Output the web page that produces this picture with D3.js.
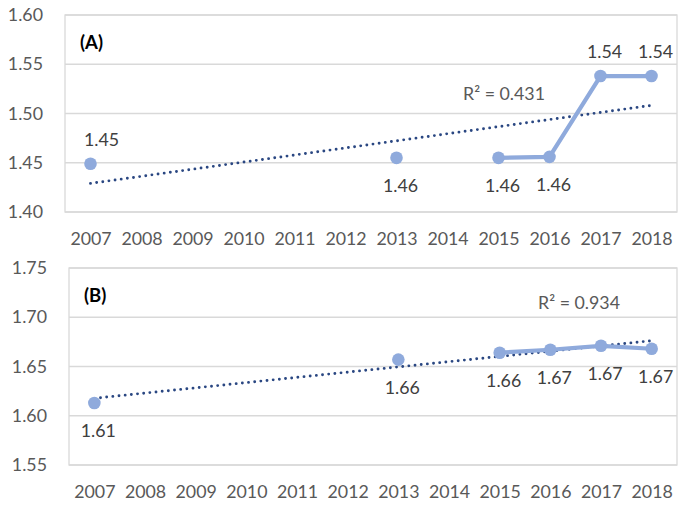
<!DOCTYPE html>
<html>
<head>
<meta charset="utf-8">
<script src="https://cdn.jsdelivr.net/npm/d3@7"></script>
<style>
  html, body { margin: 0; padding: 0; background: #fff; }
  svg { display: block; font-family: Lato, "Open Sans", sans-serif; }
</style>
</head>
<body>
<svg id="chart" width="685" height="505"></svg>
<script>
// ---------- data ----------
const years = ['2007','2008','2009','2010','2011','2012','2013','2014','2015','2016','2017','2018'];

const valuesA = [1.449, null, null, null, null, null, 1.455, null, 1.455, 1.456, 1.538, 1.538];
const labelsA = ['1.45', null, null, null, null, null, '1.46', null, '1.46', '1.46', '1.54', '1.54'];
const placeA  = ['aboveRight', null, null, null, null, null, 'below', null, 'below', 'below', 'above', 'above'];
const yTicksA = [1.40, 1.45, 1.50, 1.55, 1.60];
const titleA = '(A)';
const r2A = 'R² = 0.431';

const valuesB = [1.613, null, null, null, null, null, 1.657, null, 1.664, 1.667, 1.671, 1.668];
const labelsB = ['1.61', null, null, null, null, null, '1.66', null, '1.66', '1.67', '1.67', '1.67'];
const placeB  = ['below', null, null, null, null, null, 'below', null, 'below', 'below', 'below', 'below'];
const yTicksB = [1.55, 1.60, 1.65, 1.70, 1.75];
const titleB = '(B)';
const r2B = 'R² = 0.934';

// ---------- drawing ----------
const svg = d3.select('#chart');
const lineColor = '#8faadc';
const trendColor = '#2a4782';
const gridColor = '#d9d9d9';
const tickColor = '#595959';
const labelColor = '#404040';
const fontSize = '17.8px';

function drawPanel(cfg) {
  const { left, right, top, bottom, values, labels, places, ticks, title, r2, r2x, r2y } = cfg;
  const g = svg.append('g');
  const x = d3.scalePoint().domain(years).range([left, right]).padding(0.5);
  const y = d3.scaleLinear().domain([ticks[0], ticks[ticks.length - 1]]).range([bottom, top]);

  // gridlines
  g.selectAll('line.grid').data(ticks).join('line')
    .attr('x1', left).attr('x2', right)
    .attr('y1', d => y(d)).attr('y2', d => y(d))
    .attr('stroke', gridColor).attr('stroke-width', 1.3);
  // plot border
  g.append('rect').attr('x', left).attr('y', top)
    .attr('width', right - left).attr('height', bottom - top)
    .attr('fill', 'none').attr('stroke', gridColor).attr('stroke-width', 1.3);

  // y axis
  const yAxis = d3.axisLeft(y).tickValues(ticks).tickFormat(d3.format('.2f')).tickSize(0).tickPadding(22);
  const ya = g.append('g').attr('transform', `translate(${left},0)`).call(yAxis);
  ya.select('.domain').remove();
  ya.selectAll('text').attr('fill', tickColor).style('font-size', fontSize)
    .style('font-family', 'Lato, sans-serif');

  // x axis
  const xAxis = d3.axisBottom(x).tickSize(0).tickPadding(20);
  const xa = g.append('g').attr('transform', `translate(0,${bottom})`).call(xAxis);
  xa.select('.domain').remove();
  xa.selectAll('text').attr('fill', tickColor).style('font-size', fontSize)
    .style('font-family', 'Lato, sans-serif');

  // trendline (least squares on category index)
  const pts = values.map((v, i) => ({ i: i + 1, v })).filter(d => d.v !== null);
  const mx = d3.mean(pts, d => d.i), my = d3.mean(pts, d => d.v);
  const slope = d3.sum(pts, d => (d.i - mx) * (d.v - my)) / d3.sum(pts, d => (d.i - mx) ** 2);
  const icpt = my - slope * mx;
  const tr = [1, years.length].map(i => ({ year: years[i - 1], v: icpt + slope * i }));
  g.append('path')
    .attr('d', d3.line().x(d => x(d.year)).y(d => y(d.v))(tr))
    .attr('fill', 'none').attr('stroke', trendColor).attr('stroke-width', 2.9)
    .attr('stroke-linecap', 'round')
    .attr('stroke-dasharray', '0 6.2');

  // data line (gaps for missing years)
  const data = values.map((v, i) => ({ year: years[i], v, label: labels[i], place: places[i] }));
  g.append('path')
    .attr('d', d3.line().defined(d => d.v !== null).x(d => x(d.year)).y(d => y(d.v))(data))
    .attr('fill', 'none').attr('stroke', lineColor).attr('stroke-width', 4.2)
    .attr('stroke-linejoin', 'round');
  const valid = data.filter(d => d.v !== null);
  g.selectAll('circle.pt').data(valid).join('circle')
    .attr('cx', d => x(d.year)).attr('cy', d => y(d.v)).attr('r', 6.3)
    .attr('fill', lineColor);

  // value labels
  g.selectAll('text.val').data(valid).join('text')
    .attr('x', d => x(d.year) + (d.place === 'aboveRight' ? 11 : 4))
    .attr('y', d => y(d.v) + (d.place === 'below' ? 27 : -25))
    .attr('text-anchor', 'middle').attr('dominant-baseline', 'central')
    .attr('fill', labelColor).style('font-size', fontSize)
    .text(d => d.label);

  // panel title
  g.append('text').attr('x', left + 15).attr('y', top + 27)
    .attr('dominant-baseline', 'central')
    .attr('fill', '#000').style('font-size', '18.5px').style('font-weight', 'bold')
    .text(title);

  // R² text
  g.append('text').attr('x', r2x).attr('y', r2y)
    .attr('text-anchor', 'middle').attr('dominant-baseline', 'central')
    .attr('fill', tickColor).style('font-size', fontSize)
    .text(r2);
}

drawPanel({ left: 65, right: 677, top: 15, bottom: 212, values: valuesA, labels: labelsA, places: placeA,
  ticks: yTicksA, title: titleA, r2: r2A, r2x: 504, r2y: 93 });
drawPanel({ left: 69, right: 677, top: 268, bottom: 465, values: valuesB, labels: labelsB, places: placeB,
  ticks: yTicksB, title: titleB, r2: r2B, r2x: 579, r2y: 302 });
</script>
</body>
</html>
